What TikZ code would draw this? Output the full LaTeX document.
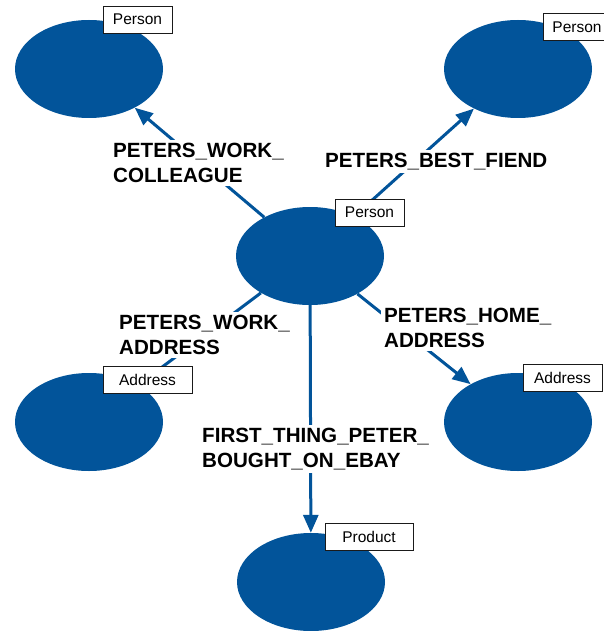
\documentclass[tikz,border=0pt]{standalone}
\usepackage{fontspec}
\setmainfont{Liberation Sans}
\usetikzlibrary{shapes.geometric,arrows.meta}
\definecolor{graphblue}{HTML}{02549A}
\definecolor{tagline}{HTML}{1A1A1A}

\begin{document}
\begin{tikzpicture}[
  x=1pt,
  y=-1pt,
  entity/.style={ellipse, fill=graphblue, minimum width=148pt, minimum height=98pt, inner sep=0pt},
  tag/.style={draw=tagline, line width=0.9pt, fill=white, minimum height=27pt, inner sep=0pt,
    font=\fontsize{15.5}{18}\selectfont},
  rel/.style={draw=graphblue, line width=3pt},
  relarrow/.style={rel, -{Triangle[length=18pt,width=15pt]}},
  rellabel/.style={fill=white, inner sep=3pt, anchor=north west, align=left,
    font=\bfseries\fontsize{20.6}{25}\selectfont}
]
  \useasboundingbox (0,0) rectangle (604,631);

  % nodes of the graph
  \node[entity] (peter) at (310,256) {};
  \node[entity] (colleague) at (89,69) {};
  \node[entity] (friend) at (518,69) {};
  \node[entity] (workaddr) at (89,422) {};
  \node[entity] (homeaddr) at (518,422) {};
  \node[entity] (product) at (311,582) {};

  % relationships
  \draw[relarrow] (peter) -- (colleague);
  \draw[relarrow] (peter) -- (friend);
  \draw[relarrow] (peter) -- (workaddr);
  \draw[relarrow] (peter) -- (homeaddr);
  \draw[relarrow] (peter) -- (product);

  \node[rellabel] (colleague-rel) at (110,140) {PETERS\_WORK\_\\COLLEAGUE};
  \node[rellabel] (friend-rel) at (322,150) {PETERS\_BEST\_FIEND};
  \node[rellabel] (workaddr-rel) at (116,312) {PETERS\_WORK\_\\ADDRESS};
  \node[rellabel] (homeaddr-rel) at (381,305) {PETERS\_HOME\_\\ADDRESS};
  \node[rellabel] (product-rel) at (199,425) {FIRST\_THING\_PETER\_\\BOUGHT\_ON\_EBAY};

  % type tags
  \node[tag, minimum width=69pt] (colleague-tag) at (137.5,19.5) {Person};
  \node[tag, minimum width=68pt] (friend-tag) at (577,27) {Person};
  \node[tag, minimum width=69pt] (peter-tag) at (369.5,212.5) {Person};
  \node[tag, minimum width=89pt] (workaddr-tag) at (147.5,379.5) {Address};
  \node[tag, minimum width=79pt] (homeaddr-tag) at (562.5,377.5) {Address};
  \node[tag, minimum width=88pt] (product-tag) at (369,536.5) {Product};
\end{tikzpicture}
\end{document}
